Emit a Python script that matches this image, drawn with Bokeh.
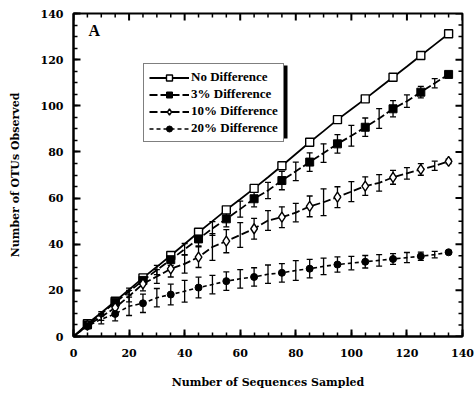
from bokeh.plotting import figure
from bokeh.models import ColumnDataSource, Whisker, TeeHead, Legend, LegendItem, Range1d, Label, FixedTicker, BoxAnnotation
from bokeh.embed import file_html
from bokeh.resources import INLINE

# ---- data ----
seqs = [0, 5, 10, 15, 20, 25, 30, 35, 40, 45, 50, 55, 60, 65, 70, 75, 80, 85, 90, 95,
        100, 105, 110, 115, 120, 125, 130, 135]
no_diff = [0, 5.5, 10.3, 15.3, 20.3, 25.4, 30.2, 35.1, 40.1, 45.2, 50.0, 54.9, 59.5, 64.2,
           69.0, 74.0, 79.1, 84.2, 89.0, 94.0, 98.5, 103.0, 107.7, 112.4, 117.0, 121.8, 126.5, 131.2]
diff3 = [0, 5, 9.8, 14.8, 19.5, 24.3, 28.8, 33.3, 37.8, 42.3, 46.8, 51.0, 55.2, 59.7,
         63.3, 67.6, 71.6, 75.6, 79.5, 83.5, 87.0, 90.7, 94.5, 98.7, 102.0, 105.9, 109.8, 113.6]
err3 = [0, 0.5, 1, 1.5, 1.5, 2, 2, 2.5, 2.5, 3, 3, 3.5, 3.5, 3.5, 3.5, 4, 4, 4, 4, 4,
        4.5, 4, 4.3, 3.5, 2.7, 2.5, 2, 1]
diff10 = [0, 4.8, 8.5, 12.5, 17.5, 22.8, 26.0, 29.3, 31.5, 34.4, 38.8, 41.3, 44.0, 46.7,
          50.3, 51.7, 53.7, 56.4, 58.2, 60.4, 62.8, 65.2, 66.6, 69.0, 70.7, 72.4, 74.0, 75.9]
err10 = [0, 0.5, 1.5, 2, 2.5, 3, 3, 3.5, 4, 4.5, 5.8, 5, 5.4, 4.5, 4.3, 4.5, 4, 4.5, 5.8,
         4.5, 4.3, 4, 3.6, 3, 2.5, 2.5, 2, 1]
diff20 = [0, 4.5, 7.5, 9.8, 13.1, 14.4, 16.8, 18.2, 19.6, 21.2, 22.5, 24.0, 25.0, 25.8,
          27.0, 27.6, 28.6, 29.4, 30.4, 31.2, 31.8, 32.4, 33.0, 33.6, 34.2, 34.8, 35.5, 36.5]
err20 = [0, 1, 2, 3, 4, 4, 4, 4.5, 4.7, 4.5, 4, 4, 4, 4, 4, 4, 4.3, 4, 3.6, 3.3, 2.9,
         2.7, 2.5, 2.3, 2.2, 1.8, 1.4, 0.5]
x_ticks = [0, 20, 40, 60, 80, 100, 120, 140]
y_ticks = [0, 20, 40, 60, 80, 100, 120, 140]
minor_ticks = [0, 5, 10, 15, 20, 25, 30, 35, 40, 45, 50, 55, 60, 65, 70, 75, 80, 85, 90,
               95, 100, 105, 110, 115, 120, 125, 130, 135, 140]
labels = ["No Difference", "3% Difference", "10% Difference", "20% Difference"]

FONT = "Liberation Serif"
AFONT = "DejaVu Serif"

FW, FH = 389, 323
L, T = 73, 13
W, H = 474, 393
XMAX = YMAX = 140

p = figure(width=W, height=H, output_backend="svg", toolbar_location=None,
           x_range=Range1d(0, XMAX), y_range=Range1d(0, YMAX),
           min_border_left=L, min_border_right=W - L - FW, min_border_top=T,
           min_border_bottom=H - T - FH)
p.grid.visible = False
p.outline_line_color = "black"
p.outline_line_width = 2
p.background_fill_color = "white"
p.border_fill_color = "white"

for ax in (p.xaxis[0], p.yaxis[0]):
    ax.axis_line_width = 2
    ax.axis_line_color = "black"
    ax.major_tick_in = 7
    ax.major_tick_out = 0
    ax.minor_tick_in = 4
    ax.minor_tick_out = 0
    ax.major_tick_line_width = 2
    ax.minor_tick_line_width = 1.5
    ax.major_label_text_font = AFONT
    ax.major_label_text_font_style = "bold"
    ax.major_label_text_font_size = "11px"
    ax.major_label_text_color = "black"
    ax.axis_label_text_font = AFONT
    ax.axis_label_text_font_style = "bold"
    ax.axis_label_text_font_size = "11px"
    ax.axis_label_text_color = "black"

p.xaxis.ticker = FixedTicker(ticks=x_ticks, minor_ticks=minor_ticks)
p.yaxis.ticker = FixedTicker(ticks=y_ticks, minor_ticks=minor_ticks)
p.xaxis.major_label_standoff = 12
p.yaxis.major_label_standoff = 10
p.xaxis.axis_label = "Number of Sequences Sampled"
p.yaxis.axis_label = "Number of OTUs Observed"
p.xaxis.axis_label_standoff = 16
p.yaxis.axis_label_standoff = 16

# mirrored inside ticks on top and right edges (lengths in px converted to data units)
ux = XMAX / FW
uy = YMAX / FH
tmaj = [t for t in x_ticks]
tmin = [t for t in minor_ticks if t not in x_ticks]
p.segment(x0=tmaj, y0=[YMAX] * len(tmaj), x1=tmaj, y1=[YMAX - 7 * uy] * len(tmaj), line_color="black", line_width=2)
p.segment(x0=tmin, y0=[YMAX] * len(tmin), x1=tmin, y1=[YMAX - 4 * uy] * len(tmin), line_color="black", line_width=1.5)
ymaj = [t for t in y_ticks]
ymin = [t for t in minor_ticks if t not in y_ticks]
p.segment(x0=[XMAX] * len(ymaj), y0=ymaj, x1=[XMAX - 7 * ux] * len(ymaj), y1=ymaj, line_color="black", line_width=2)
p.segment(x0=[XMAX] * len(ymin), y0=ymin, x1=[XMAX - 4 * ux] * len(ymin), y1=ymin, line_color="black", line_width=1.5)

src = ColumnDataSource(dict(x=seqs, nd=no_diff, d3=diff3, d10=diff10, d20=diff20,
                            u3=[a + b for a, b in zip(diff3, err3)], l3=[a - b for a, b in zip(diff3, err3)],
                            u10=[a + b for a, b in zip(diff10, err10)], l10=[a - b for a, b in zip(diff10, err10)],
                            u20=[a + b for a, b in zip(diff20, err20)], l20=[a - b for a, b in zip(diff20, err20)]))
mk_idx = [i for i, s in enumerate(seqs) if s % 10 == 5]
msrc = ColumnDataSource(dict(x=[seqs[i] for i in mk_idx], nd=[no_diff[i] for i in mk_idx],
                             d3=[diff3[i] for i in mk_idx], d10=[diff10[i] for i in mk_idx],
                             d20=[diff20[i] for i in mk_idx]))

for up, lo in [("u3", "l3"), ("u10", "l10"), ("u20", "l20")]:
    w = Whisker(source=src, base="x", upper=up, lower=lo, line_color="black", line_width=1.3,
                upper_head=TeeHead(size=6, line_color="black", line_width=1.3),
                lower_head=TeeHead(size=6, line_color="black", line_width=1.3))
    p.add_layout(w)

l0 = p.line("x", "nd", source=src, line_color="black", line_width=1.8)
l1 = p.line("x", "d3", source=src, line_color="black", line_width=1.8, line_dash="8 3")
l2 = p.line("x", "d10", source=src, line_color="black", line_width=1.8, line_dash="8 3")
l3 = p.line("x", "d20", source=src, line_color="black", line_width=1.6, line_dash="4 3")

m0 = p.scatter("x", "nd", source=msrc, marker="square", size=8, fill_color="white", line_color="black", line_width=1.4)
m1 = p.scatter("x", "d3", source=msrc, marker="square", size=8, fill_color="black", line_color="black")
m2 = p.scatter("x", "d10", source=msrc, marker="diamond", size=10, fill_color="white", line_color="black", line_width=1.4)
m3 = p.scatter("x", "d20", source=msrc, marker="circle", size=7, fill_color="black", line_color="black")

# legend box in canvas px (top-left origin)
LX, LY, LW, LH = 143, 62, 141, 73
FB = T + FH  # frame bottom in canvas px
# drop shadow: BoxAnnotation screen units are frame-relative, y upward from frame bottom
p.add_layout(BoxAnnotation(left=LX + 3 - L, right=LX + LW + 3 - L, top=FB - (LY + 3), bottom=FB - (LY + LH + 3),
                           left_units="screen", right_units="screen", top_units="screen", bottom_units="screen",
                           fill_color="black", fill_alpha=1, line_color=None, level="overlay"))

legend = Legend(items=[LegendItem(label=labels[0], renderers=[l0, m0]),
                       LegendItem(label=labels[1], renderers=[l1, m1]),
                       LegendItem(label=labels[2], renderers=[l2, m2]),
                       LegendItem(label=labels[3], renderers=[l3, m3])],
                location=(LX - L, FB - (LY + LH) - 7))
legend.label_text_font = FONT
legend.label_text_font_style = "bold"
legend.label_text_font_size = "13px"
legend.label_text_color = "black"
legend.label_height = 15
legend.glyph_height = 15
legend.glyph_width = 40
legend.spacing = 1
legend.padding = 5
legend.margin = 0
legend.label_standoff = 2
legend.border_line_color = "black"
legend.border_line_width = 1.5
legend.background_fill_alpha = 1
legend.level = "overlay"
p.add_layout(legend, "center")

p.add_layout(Label(x=5.4, y=132.6, text="A", text_font=FONT, text_font_style="bold",
                   text_font_size="16px", text_color="black", text_baseline="middle"))

open("out.html", "w").write(file_html(p, INLINE))
